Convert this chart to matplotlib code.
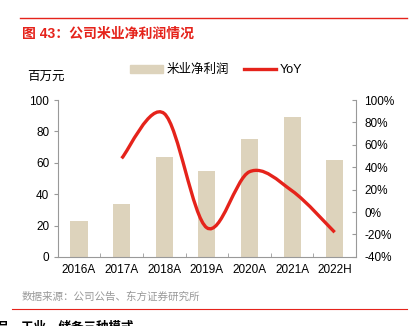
import matplotlib
matplotlib.use('Agg')
import matplotlib.pyplot as plt
from matplotlib.path import Path
from matplotlib.patches import PathPatch
from matplotlib.lines import Line2D
from matplotlib.patches import Patch

plt.rcParams['font.family'] = ['Liberation Sans', 'Noto Sans CJK SC', 'DejaVu Sans']

# 数据
anos = ['2016A', '2017A', '2018A', '2019A', '2020A', '2021A', '2022H']
lucro = [23, 34, 64, 55, 75, 89, 62]
yoy = [None, 48, 88, -14, 36, 19, -18]

cor_barra = '#DDD3BC'
cor_linha = '#E5231B'

fig = plt.figure(figsize=(4.12, 3.26), dpi=100)
ax = fig.add_axes([0.14, 0.212, 0.724, 0.481])
x = list(range(len(anos)))
ax.bar(x, lucro, width=0.4, color=cor_barra, zorder=2)
ax.set_xlim(-0.5, 6.5)
ax.set_ylim(0, 100)
ax.set_yticks(range(0, 101, 20))
ax.set_xticks(x)
ax.set_xticklabels(anos, fontsize=8.5)
ax.set_xticks([i + 0.5 for i in range(-1, 7)], minor=True)
ax.tick_params(axis='x', which='major', length=0, pad=5)
ax.tick_params(axis='x', which='minor', direction='in', length=3, color='#999999')
ax.tick_params(axis='y', labelsize=8.5, length=3, color='#999999', pad=3)
for s in ['top', 'right']:
    ax.spines[s].set_visible(False)
ax.spines['left'].set_color('#999999')
ax.spines['bottom'].set_color('#999999')

ax2 = ax.twinx()
ax2.set_ylim(-40, 100)
ax2.set_yticks(range(-40, 101, 20))
ax2.set_yticklabels([f'{v}%' for v in range(-40, 101, 20)])
ax2.tick_params(axis='y', labelsize=8.5, length=3, direction='in', color='#999999', pad=6)
for s in ['top', 'left', 'bottom']:
    ax2.spines[s].set_visible(False)
ax2.spines['right'].set_color('#999999')

# linha suavizada (estilo Excel, Catmull-Rom -> Bezier)
pts = [(i, v) for i, v in zip(x, yoy) if v is not None]
verts = [pts[0]]
codes = [Path.MOVETO]
for k in range(len(pts) - 1):
    p0 = pts[k - 1] if k > 0 else pts[k]
    p1 = pts[k]
    p2 = pts[k + 1]
    p3 = pts[k + 2] if k + 2 < len(pts) else pts[k + 1]
    c1 = (p1[0] + (p2[0] - p0[0]) / 6, p1[1] + (p2[1] - p0[1]) / 6)
    c2 = (p2[0] - (p3[0] - p1[0]) / 6, p2[1] - (p3[1] - p1[1]) / 6)
    verts += [c1, c2, p2]
    codes += [Path.CURVE4] * 3
ax2.add_patch(PathPatch(Path(verts, codes), facecolor='none', edgecolor=cor_linha,
                        lw=2.4, capstyle='butt', zorder=3))

fig.text(0.065, 0.763, '百万元', fontsize=9, va='center')
handles = [Patch(color=cor_barra), Line2D([], [], color=cor_linha, lw=2.4)]
fig.legend(handles, ['米业净利润', 'YoY'], loc='center', bbox_to_anchor=(0.525, 0.785),
           ncol=2, frameon=False, fontsize=9, handlelength=2.6, handleheight=0.6,
           columnspacing=1.2, handletextpad=0.3)

# cabeçalho e rodapé
fig.add_artist(Line2D([0.048, 0.988], [0.945, 0.945], color=cor_linha, lw=1))
fig.text(0.053, 0.898, '图 43：公司米业净利润情况', color=cor_linha, fontsize=10,
         fontweight='bold', va='center')
fig.text(0.053, 0.089, '数据来源：公司公告、东方证券研究所', color='#999999', fontsize=7.6, va='center')
fig.add_artist(Line2D([0.03, 0.988], [0.052, 0.052], color=cor_linha, lw=0.8))
fig.text(-0.01, -0.005, '品、工业、储备三种模式', fontsize=9, fontweight='bold', va='center')

fig.savefig('out.png', dpi=100)
